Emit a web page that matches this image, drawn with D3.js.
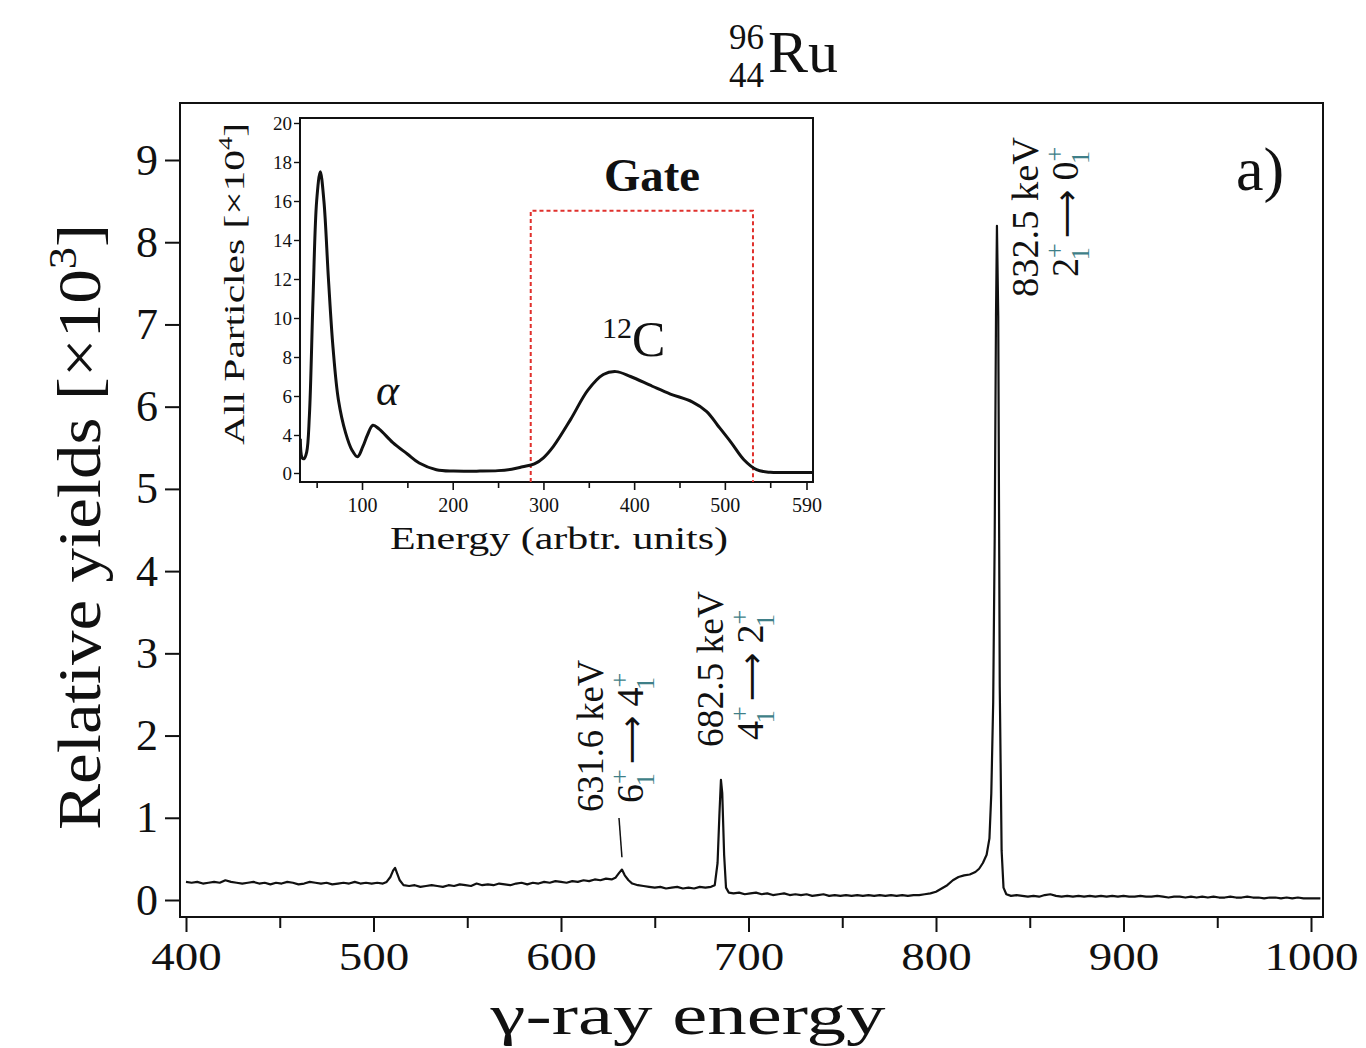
<!DOCTYPE html>
<html><head><meta charset="utf-8">
<script src="https://cdn.jsdelivr.net/npm/d3@7"></script>
<style>
body{margin:0;background:#fff}
svg{display:block}
text{font-family:"Liberation Serif","Times New Roman",serif;fill:#111}
</style>
</head><body>
<svg id="chart" width="1366" height="1048"></svg>
<script>
// ---------- main spectrum (γ-ray energy in keV, relative yield ×10^3) ----------
const energy = [400,403,406,409,412,415,418,421,424,427,430,433,436,439,442,445,448,451,454,457,460,463,466,469,472,475,478,481,484,487,490,493,496,499,502,505,507,509,510.5,511.5,512.5,514,516,519,522,525,528,531,534,537,540,543,546,549,552,555,558,561,564,567,570,573,576,579,582,585,588,591,594,597,600,603,606,609,612,615,618,621,624,627,629,631,632.5,634,636,638,641,644,647,650,653,656,659,662,665,668,671,674,677,680,682,683.5,684.5,685.3,686,687,688,689.5,692,695,698,701,704,707,710,713,716,719,722,725,728,731,734,737,740,743,746,749,752,755,758,761,764,767,770,773,776,779,782,785,788,791,794,797,800,803,806,809,812,815,818,821,823,825,827,828.5,829.5,830.5,831.3,832,832.5,833.2,834,835,836,837.5,840,843,846,849,852,855,858,861,864,867,870,873,876,879,882,885,888,891,894,897,900,903,906,909,912,915,918,921,924,927,930,933,936,939,942,945,948,951,954,957,960,963,966,969,972,975,978,981,984,987,990,993,996,999,1002,1005];
const yields = [.22,.21,.22,.20,.21,.22,.21,.24,.22,.21,.20,.21,.22,.20,.21,.19,.21,.20,.22,.21,.19,.20,.22,.21,.20,.21,.19,.20,.21,.20,.22,.20,.21,.20,.21,.20,.22,.28,.36,.39,.33,.24,.18,.17,.18,.16,.17,.18,.17,.16,.18,.17,.19,.18,.17,.20,.18,.19,.18,.20,.19,.18,.20,.21,.19,.21,.20,.22,.21,.23,.22,.21,.23,.22,.24,.23,.25,.24,.26,.25,.27,.33,.37,.30,.24,.20,.18,.17,.16,.15,.16,.14,.15,.16,.14,.15,.14,.16,.15,.16,.18,.45,1.05,1.46,1.30,.55,.15,.09,.08,.09,.07,.08,.09,.07,.08,.06,.07,.08,.06,.07,.06,.07,.05,.06,.07,.05,.06,.05,.06,.05,.06,.05,.06,.05,.06,.05,.06,.05,.06,.05,.06,.06,.07,.08,.10,.14,.18,.24,.28,.30,.31,.34,.38,.45,.55,.75,1.3,2.4,4.4,7.1,8.2,7.1,2.6,.6,.15,.07,.05,.06,.05,.04,.05,.04,.06,.07,.05,.04,.05,.04,.05,.04,.05,.04,.05,.04,.05,.04,.05,.04,.04,.05,.04,.04,.05,.04,.03,.04,.04,.03,.04,.03,.04,.03,.04,.03,.03,.04,.03,.03,.04,.03,.03,.02,.03,.03,.02,.03,.02,.03,.02,.02,.02,.02];
const xTicks = [400,500,600,700,800,900,1000];
const xMinorTicks = [450,550,650,750,850,950];
const yTicks = [0,1,2,3,4,5,6,7,8,9];

// ---------- inset particle spectrum ----------
const insetEnergy = [32,34,36,39,42,46,50,54,58,63,68,74,82,89,95,101,106,112,119,134,150,163,182,201,230,250,265,277,290,300,311,330,349,366,380,396,420,440,464,480,492,507,521,535,550,570,597];
const insetCounts = [3.6,1.6,1.5,2.2,5,11,16,17.5,16,12,8.5,5.8,4.1,2.4,1.7,2.8,4.0,4.5,4.3,3.2,2.0,1.05,0.35,0.2,0.2,0.25,0.4,0.65,0.95,1.6,2.8,4.8,6.3,7.1,7.25,7.0,6.5,6.1,5.7,5.2,4.5,3.2,1.4,0.35,0.07,0.05,0.05];
const insetXTicks = [100,200,300,400,500,590];
const insetXMinorTicks = [50,150,250,350,450,550];
const insetYTicks = [0,4,6,8,10,12,14,16,18,20];
const gateRange = [286,531];
const gateTop = 15.5;

// ---------- labels ----------
const peakLabels = [
  {energyText:"631.6 keV", from:"6", to:"4"},
  {energyText:"682.5 keV", from:"4", to:"2"},
  {energyText:"832.5 keV", from:"2", to:"0"}
];

const svg = d3.select("#chart");
const F = {l:180, r:1323, t:103, b:917};
const x = d3.scaleLinear().domain([400,1000]).range([186,1311]);
const y = d3.scaleLinear().domain([0,9]).range([900,160]);

svg.append("defs").append("clipPath").attr("id","clipMain")
  .append("rect").attr("x",F.l).attr("y",F.t).attr("width",F.r-F.l).attr("height",F.b-F.t);

// spectrum
const pts = energy.map((e,i)=>[e,yields[i]]);
svg.append("path").datum(pts)
  .attr("clip-path","url(#clipMain)")
  .attr("fill","none").attr("stroke","#111").attr("stroke-width",2.2).attr("stroke-linejoin","round")
  .attr("d", d3.line().x(d=>x(d[0])).y(d=>y(d[1])));

// frame
svg.append("rect").attr("x",F.l).attr("y",F.t).attr("width",F.r-F.l).attr("height",F.b-F.t)
  .attr("fill","none").attr("stroke","#111").attr("stroke-width",2);

// x axis
const gx = svg.append("g").attr("transform",`translate(0,${F.b})`)
  .call(d3.axisBottom(x).tickValues(xTicks).tickFormat(d3.format("d")).tickSize(15).tickPadding(10));
gx.select(".domain").remove();
gx.selectAll("line").attr("stroke","#111").attr("stroke-width",2);
gx.selectAll("text").attr("font-size",40).attr("font-family","Liberation Serif").attr("fill","#111")
  .attr("textLength",d=>String(d).length*23.5).attr("lengthAdjust","spacingAndGlyphs");
const gxm = svg.append("g").attr("transform",`translate(0,${F.b})`)
  .call(d3.axisBottom(x).tickValues(xMinorTicks).tickSize(11).tickFormat(""));
gxm.select(".domain").remove();
gxm.selectAll("line").attr("stroke","#111").attr("stroke-width",2);

// y axis
const gy = svg.append("g").attr("transform",`translate(${F.l},0)`)
  .call(d3.axisLeft(y).tickValues(yTicks).tickSize(15).tickPadding(7));
gy.select(".domain").remove();
gy.selectAll("line").attr("stroke","#111").attr("stroke-width",2);
gy.selectAll("text").attr("font-size",44).attr("font-family","DejaVu Serif").attr("fill","#111");

// axis titles
svg.append("text").attr("x",688).attr("y",1034).attr("text-anchor","middle")
  .attr("font-size",58).attr("textLength",395).attr("lengthAdjust","spacingAndGlyphs")
  .text("γ-ray energy");
const yl = svg.append("text").attr("transform","translate(100,527) rotate(-90)")
  .attr("text-anchor","middle").attr("font-size",62).attr("textLength",606).attr("lengthAdjust","spacingAndGlyphs");
yl.append("tspan").text("Relative yields [×10");
yl.append("tspan").attr("font-size",40).attr("dy",-24).text("3");
yl.append("tspan").attr("dy",24).text("]");

// title
svg.append("text").attr("x",768).attr("y",72).attr("font-size",60).text("Ru");
svg.append("text").attr("x",764).attr("y",49).attr("text-anchor","end").attr("font-size",35).text("96");
svg.append("text").attr("x",764).attr("y",87).attr("text-anchor","end").attr("font-size",35).text("44");

// panel label
svg.append("text").attr("x",1236).attr("y",190).attr("font-size",62).text("a)");

// peak annotations
const scriptColor = "#3f7f88";
function annot(d, bx, by, bx2, by2, len1){
  svg.append("text").attr("transform",`translate(${bx},${by}) rotate(-90)`)
    .attr("font-size",38).attr("textLength",len1).attr("lengthAdjust","spacingAndGlyphs").text(d.energyText);
  const t = svg.append("text").attr("transform",`translate(${bx2},${by2}) rotate(-90)`).attr("font-size",38);
  const s = 26;
  t.append("tspan").text(d.from);
  t.append("tspan").attr("font-size",s).attr("dy",-15).attr("fill",scriptColor).text("+");
  t.append("tspan").attr("font-size",s).attr("dx",-17).attr("dy",26).attr("fill",scriptColor).text("1");
  t.append("tspan").attr("dy",-11).attr("dx",9).attr("font-family","DejaVu Sans").attr("font-size",34).text("⟶");
  t.append("tspan").attr("dx",9).text(d.to);
  t.append("tspan").attr("font-size",s).attr("dy",-15).attr("fill",scriptColor).text("+");
  t.append("tspan").attr("font-size",s).attr("dx",-17).attr("dy",26).attr("fill",scriptColor).text("1");
}
annot(peakLabels[0], 603, 812, 643, 803, 152);
annot(peakLabels[1], 723, 747, 763, 740, 156);
annot(peakLabels[2], 1038, 297, 1078, 277, 160);
// leader line for 631.6 keV
svg.append("line").attr("x1",619).attr("y1",818).attr("x2",x(632.5)).attr("y2",y(0.52))
  .attr("stroke","#111").attr("stroke-width",1.5);

// ---------- inset ----------
const I = {l:300, r:813, t:118, b:482};
const xi = d3.scaleLinear().domain([0,590]).range([271.3,806.5]);
const yi = d3.scaleLinear().domain([0,4,20]).range([473,435,123]);
svg.append("rect").attr("x",I.l).attr("y",I.t).attr("width",I.r-I.l).attr("height",I.b-I.t)
  .attr("fill","#fff").attr("stroke","#111").attr("stroke-width",2);

// gate
svg.append("path")
  .attr("d",`M${xi(gateRange[0])},${I.b}V${yi(gateTop)}H${xi(gateRange[1])}V${I.b}`)
  .attr("fill","none").attr("stroke","#e0302c").attr("stroke-width",2).attr("stroke-dasharray","4,3");

svg.append("defs").append("clipPath").attr("id","clipInset")
  .append("rect").attr("x",I.l).attr("y",I.t).attr("width",I.r-I.l).attr("height",I.b-I.t);
svg.append("path").datum(insetEnergy.map((e,i)=>[e,insetCounts[i]]))
  .attr("clip-path","url(#clipInset)")
  .attr("fill","none").attr("stroke","#111").attr("stroke-width",3)
  .attr("d", d3.line().curve(d3.curveCatmullRom.alpha(0.5)).x(d=>xi(d[0])).y(d=>yi(d[1])));

const gix = svg.append("g").attr("transform",`translate(0,${I.b})`)
  .call(d3.axisBottom(xi).tickValues(insetXTicks).tickSize(8).tickPadding(8));
gix.select(".domain").remove();
gix.selectAll("line").attr("stroke","#111").attr("stroke-width",1.6);
gix.selectAll("text").attr("font-size",20).attr("font-family","Liberation Serif").attr("fill","#111");
const gixm = svg.append("g").attr("transform",`translate(0,${I.b})`)
  .call(d3.axisBottom(xi).tickValues(insetXMinorTicks).tickSize(6).tickFormat(""));
gixm.select(".domain").remove();
gixm.selectAll("line").attr("stroke","#111").attr("stroke-width",1.6);

const giy = svg.append("g").attr("transform",`translate(${I.l},0)`)
  .call(d3.axisLeft(yi).tickValues(insetYTicks).tickSize(6).tickPadding(2));
giy.select(".domain").remove();
giy.selectAll("line").attr("stroke","#111").attr("stroke-width",1.4);
giy.selectAll("text").attr("font-size",19).attr("font-family","Liberation Serif").attr("fill","#111");

svg.append("text").attr("x",559).attr("y",549).attr("text-anchor","middle")
  .attr("font-size",31).attr("textLength",338).attr("lengthAdjust","spacingAndGlyphs")
  .text("Energy (arbtr. units)");
const iyl = svg.append("text").attr("transform","translate(244,284) rotate(-90)")
  .attr("text-anchor","middle").attr("font-size",30).attr("textLength",322).attr("lengthAdjust","spacingAndGlyphs");
iyl.append("tspan").text("All Particles [×10");
iyl.append("tspan").attr("font-size",19).attr("dy",-12).text("4");
iyl.append("tspan").attr("dy",12).text("]");

svg.append("text").attr("x",652).attr("y",191).attr("text-anchor","middle")
  .attr("font-size",46).attr("font-weight","bold").attr("textLength",96).attr("lengthAdjust","spacingAndGlyphs").text("Gate");
const ct = svg.append("text").attr("x",602).attr("y",356).attr("font-size",50);
ct.append("tspan").attr("font-size",30).attr("dy",-18).text("12");
ct.append("tspan").attr("dy",18).text("C");
svg.append("text").attr("x",376).attr("y",405).attr("font-size",44).attr("font-style","italic").text("α");
</script>
</body></html>
